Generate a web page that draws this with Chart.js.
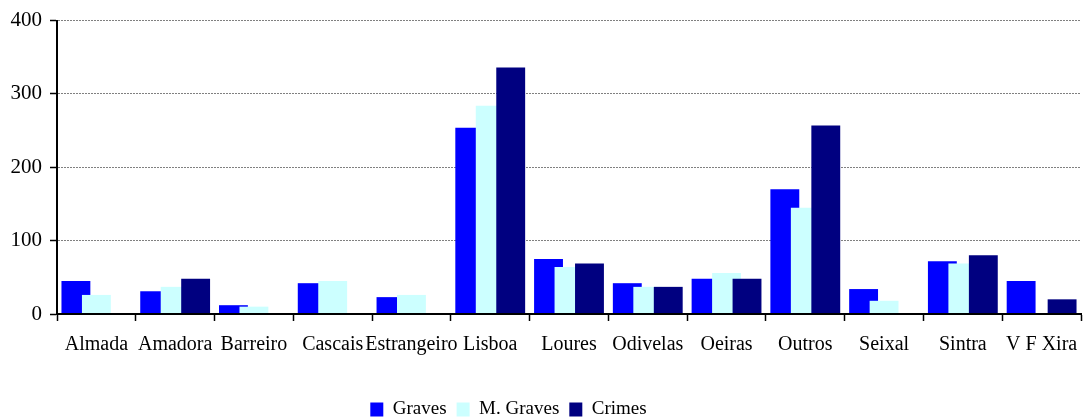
<!DOCTYPE html>
<html>
<head>
<meta charset="utf-8">
<script src="https://cdn.jsdelivr.net/npm/chart.js@4.4.0/dist/chart.umd.min.js"></script>
<style>
  html, body { margin: 0; padding: 0; background: #fff; }
  #wrap { width: 1083px; height: 418px; }
</style>
</head>
<body>
<div id="wrap"><canvas id="barChart"></canvas></div>
<script>
var categories = ["Almada", "Amadora", "Barreiro", "Cascais", "Estrangeiro", "Lisboa",
                  "Loures", "Odivelas", "Oeiras", "Outros", "Seixal", "Sintra", "V F Xira"];
var graves   = [45, 31, 12, 42, 23, 254, 75, 42, 48, 170, 34, 72, 45];
var mGraves  = [26, 37, 10, 45, 26, 284, 64, 37, 56, 145, 18, 69, 0];
var crimes   = [0, 48, 0, 0, 0, 336, 69, 37, 48, 257, 0, 80, 20];
var yTicks   = [0, 100, 200, 300, 400];

// bars overlap like the original, so later series must be painted on top
var drawInOrder = {
    id: 'drawInOrder',
    beforeDatasetsDraw: function (chart) {
        chart.getSortedVisibleDatasetMetas().forEach(function (meta) {
            meta.controller.draw();
        });
        return false;
    }
};

// the original legend sits a bit left of the page centre
var legendShift = {
    id: 'legendShift',
    afterLayout: function (chart) {
        chart.legend.right -= 64;
    }
};

class BarChart {

    constructor (labelsArray, datasetJsonArray) {
        this._labelsArray = labelsArray;
        this._datasetJsonArray = datasetJsonArray;
    }

    // generateChart creates the grouped bar chart.
    generateChart () {
        var ctx = document.getElementById("barChart");
        Chart.defaults.font.family = "'Liberation Serif', 'Times New Roman', serif";
        Chart.defaults.font.size = 19;
        Chart.defaults.color = '#000';
        return new Chart(ctx, {
            type: 'bar',
            data: {
                labels: this._labelsArray,
                datasets: this._datasetJsonArray
            },
            options: {
                responsive: true,
                maintainAspectRatio: false,
                animation: false,
                layout: { padding: { top: 20, right: 2, left: 0, bottom: -11 } },
                datasets: { bar: { barPercentage: 1.41, categoryPercentage: 0.78 } },
                plugins: {
                    tooltip: { enabled: false },
                    legend: {
                        position: 'bottom',
                        labels: { boxWidth: 13, boxHeight: 14, padding: 10, useBorderRadius: false }
                    }
                },
                scales: {
                    x: {
                        grid: { display: true, drawOnChartArea: false, drawTicks: true,
                                tickLength: 7, tickColor: '#000', tickWidth: 1.5, offset: true },
                        border: { display: true, color: '#000', width: 2, z: 1 },
                        ticks: { maxRotation: 0, minRotation: 0, autoSkip: false, padding: 12,
                                 font: { size: 20 } },
                        afterFit: function (scale) {
                            scale.height = 76;
                            scale.paddingLeft = 0;
                            scale.paddingRight = 0;
                        }
                    },
                    y: {
                        min: 0,
                        max: 400,
                        afterBuildTicks: function (scale) {
                            scale.ticks = yTicks.map(function (v) { return { value: v }; });
                        },
                        grid: { color: '#808080', lineWidth: 1, tickLength: 7,
                                tickColor: '#000', tickWidth: 1.5, tickBorderDash: [] },
                        border: { display: true, color: '#000', width: 2, dash: [2, 1], z: 1 },
                        ticks: { padding: 8, font: { size: 21 } },
                        afterFit: function (scale) { scale.width = 57; }
                    }
                }
            },
            plugins: [drawInOrder, legendShift]
        });
    }
}

var datasets = [
    { label: 'Graves', data: graves, backgroundColor: '#0000FF', borderWidth: 0 },
    { label: 'M. Graves', data: mGraves, backgroundColor: '#CCFFFF', borderWidth: 0 },
    { label: 'Crimes', data: crimes, backgroundColor: '#000080', borderWidth: 0 }
];

var chart = new BarChart(categories, datasets).generateChart();
</script>
</body>
</html>
